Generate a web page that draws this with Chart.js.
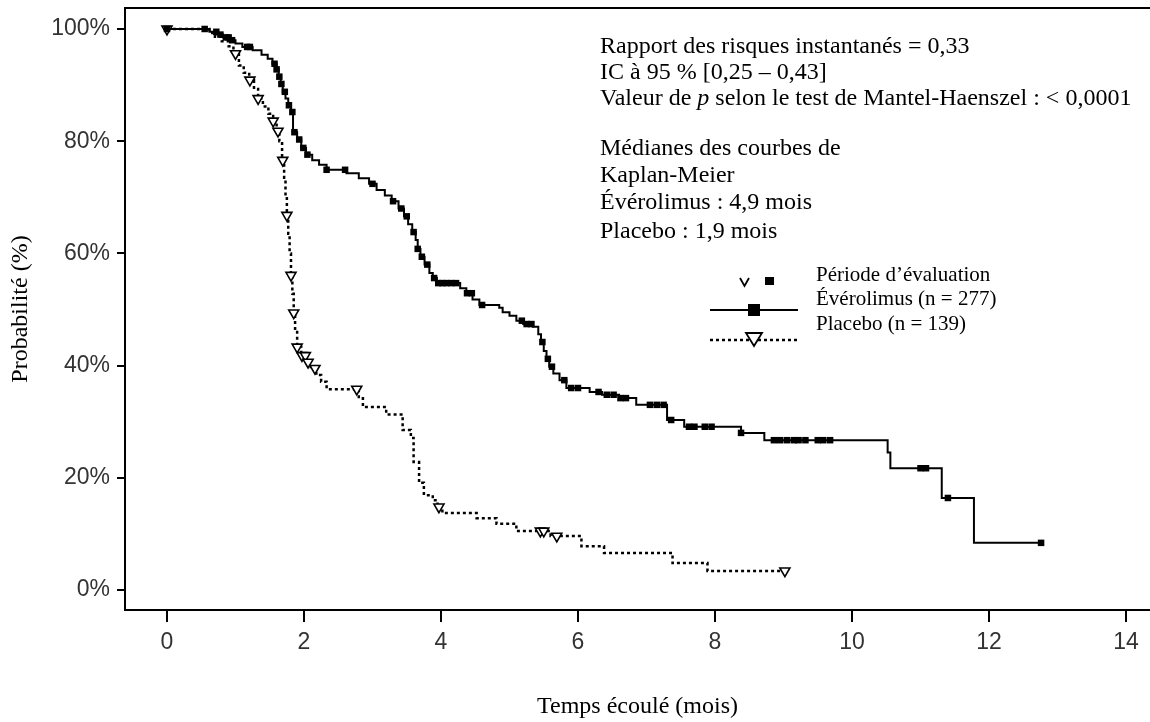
<!DOCTYPE html>
<html lang="fr">
<head>
<meta charset="utf-8">
<title>Survie sans progression – Évérolimus vs placebo</title>
<script src="https://cdn.jsdelivr.net/npm/chart.js@4.4.1/dist/chart.umd.min.js"></script>
<style>
  html, body { margin: 0; padding: 0; background: #fff; }
  #wrap { position: relative; width: 1150px; height: 722px; overflow: hidden; }
  #kmChart { position: absolute; left: 0; top: 0; }
  .note {
    position: absolute;
    font-family: "Liberation Serif", "Times New Roman", serif;
    font-size: 24px;
    line-height: 26px;
    color: #000;
    white-space: nowrap;
  }
  .key { font-size: 21px; line-height: 24px; }
</style>
</head>
<body>
<div id="wrap">
  <canvas id="kmChart" width="1150" height="722"></canvas>

  <div class="note" style="left:600px; top:32px;">Rapport des risques instantanés = 0,33</div>
  <div class="note" style="left:600px; top:58px;">IC à 95 % [0,25 – 0,43]</div>
  <div class="note" style="left:600px; top:84px;">Valeur de <i>p</i> selon le test de Mantel-Haenszel : &lt; 0,0001</div>
  <div class="note" style="left:600px; top:134px;">Médianes des courbes de</div>
  <div class="note" style="left:600px; top:161px;">Kaplan-Meier</div>
  <div class="note" style="left:600px; top:188px;">Évérolimus : 4,9 mois</div>
  <div class="note" style="left:600px; top:217px;">Placebo : 1,9 mois</div>

  <div class="note key" style="left:816px; top:262px;">Période d’évaluation</div>
  <div class="note key" style="left:816px; top:286px;">Évérolimus (n = 277)</div>
  <div class="note key" style="left:816px; top:311px;">Placebo (n = 139)</div>
</div>

<script>
// Kaplan-Meier steps: time in months, survival in % after each event
const everolimusTimes = [0, 0.62, 0.73, 0.82, 0.92, 1.0, 1.1, 1.25, 1.38, 1.47, 1.54, 1.6, 1.63, 1.66, 1.69,
  1.73, 1.77, 1.81, 1.84, 1.9, 1.96, 2.03, 2.12, 2.22, 2.33, 2.62, 2.8, 2.95, 3.06, 3.18, 3.28, 3.38, 3.46,
  3.52, 3.58, 3.63, 3.66, 3.7, 3.76, 3.83, 3.88, 3.94, 4.28, 4.37, 4.46, 4.56, 4.85, 4.9, 5.0, 5.1, 5.2,
  5.34, 5.42, 5.46, 5.5, 5.54, 5.58, 5.64, 5.73, 5.83, 6.17, 6.35, 6.6, 6.85, 7.3, 7.55, 8.38, 8.72,
  10.52, 10.56, 11.31, 11.78];
const everolimusSurv = [100, 99.5, 99.0, 98.5, 98.0, 97.4, 96.8, 96.2, 95.4, 94.7, 93.8, 92.8, 91.5, 90.2, 88.8,
  87.6, 86.4, 85.2, 81.6, 80.3, 78.8, 77.6, 76.6, 75.8, 74.9, 74.3, 73.4, 72.4, 71.3, 70.3, 69.3, 68.0, 66.6,
  65.2, 63.8, 62.4, 60.8, 59.4, 58.0, 56.5, 55.6, 54.7, 53.8, 52.9, 51.8, 50.8, 50.3, 49.5, 48.9, 48.0, 47.4,
  46.9, 45.6, 44.2, 42.6, 41.2, 39.8, 38.6, 37.4, 36.0, 35.3, 34.8, 34.2, 33.0, 30.3, 29.1, 28.0, 26.7,
  24.5, 21.7, 16.4, 8.4];
const everolimusCensored = [0, 0.55, 0.72, 0.78, 0.86, 0.9, 0.95, 1.17, 1.21, 1.57, 1.6, 1.64, 1.67, 1.72, 1.78,
  1.83, 1.86, 1.93, 1.99, 2.05, 2.33, 2.6, 3.0, 3.3, 3.42, 3.5, 3.6, 3.66, 3.72, 3.8, 3.9, 3.96, 4.02, 4.08,
  4.15, 4.22, 4.38, 4.45, 4.6, 5.18, 5.25, 5.32, 5.48, 5.56, 5.62, 5.8, 5.9, 6.0, 6.3, 6.42, 6.52, 6.62, 6.7,
  7.05, 7.15, 7.25, 7.36, 7.62, 7.7, 7.85, 7.95, 8.38, 8.86, 8.95, 9.05, 9.15, 9.22, 9.32, 9.5, 9.58, 9.68,
  11.0, 11.08, 11.4, 12.76];

const placeboTimes = [0, 0.62, 0.7, 0.8, 0.9, 0.97, 1.05, 1.12, 1.2, 1.27, 1.33, 1.4, 1.48, 1.55, 1.6, 1.64,
  1.68, 1.71, 1.73, 1.75, 1.77, 1.79, 1.81, 1.83, 1.85, 1.87, 1.9, 1.96, 2.04, 2.1, 2.18, 2.25, 2.33, 2.8,
  2.86, 3.2, 3.44, 3.56, 3.6, 3.68, 3.75, 3.88, 3.95, 4.02, 4.52, 4.81, 5.1, 5.6, 6.05, 6.38, 7.38, 7.89];
const placeboSurv = [100, 99.3, 98.6, 97.8, 96.9, 95.6, 93.5, 92.2, 90.9, 89.3, 87.6, 86.2, 84.9, 83.6, 81.8, 80.0,
  76.6, 73.5, 70.2, 66.8, 63.5, 60.0, 56.1, 52.8, 49.4, 46.3, 43.3, 41.8, 40.6, 39.5, 38.3, 37.1, 35.8, 34.4,
  32.6, 31.3, 28.5, 27.1, 22.8, 19.1, 16.9, 16.0, 14.8, 13.7, 12.8, 11.8, 10.5, 9.6, 7.8, 6.6, 4.8, 3.4];
const placeboCensored = [0, 1.0, 1.21, 1.33, 1.55, 1.62, 1.69, 1.75, 1.81, 1.85, 1.9, 1.97, 2.02, 2.06, 2.16,
  2.77, 3.97, 5.45, 5.5, 5.69, 9.02];

const xTicks = [0, 2, 4, 6, 8, 10, 12, 14];
const yTicks = [0, 20, 40, 60, 80, 100];

// survival level in force at time t
function survivalAt(times, surv, t) {
  let s = surv[0];
  for (let i = 0; i < times.length; i++) {
    if (times[i] <= t + 1e-9) s = surv[i];
  }
  return s;
}

function stepPoints(times, surv, censored) {
  const pts = times.map((t, i) => ({ x: t, y: surv[i] }));
  const last = Math.max(...censored);
  if (last > times[times.length - 1]) pts.push({ x: last, y: surv[surv.length - 1] });
  return pts;
}

function censorPoints(times, surv, censored) {
  return censored.map((t) => ({ x: t, y: survivalAt(times, surv, t) }));
}

// top edge of the frame plus the hand-drawn key glyphs
const frameAndKey = {
  id: "frameAndKey",
  afterDraw(chart) {
    const { ctx, chartArea } = chart;
    ctx.save();
    ctx.strokeStyle = "#000";
    ctx.fillStyle = "#000";
    ctx.lineWidth = 2;
    ctx.beginPath();
    ctx.moveTo(chartArea.left, chartArea.top);
    ctx.lineTo(chartArea.right, chartArea.top);
    ctx.stroke();

    // "v" and small square: censoring symbols
    ctx.lineWidth = 1.8;
    ctx.beginPath();
    ctx.moveTo(740, 278);
    ctx.lineTo(744.5, 286);
    ctx.lineTo(749, 278);
    ctx.stroke();
    ctx.fillRect(765, 277, 9, 8);

    // solid line with filled square
    ctx.lineWidth = 2;
    ctx.beginPath();
    ctx.moveTo(710, 310);
    ctx.lineTo(798, 310);
    ctx.stroke();
    ctx.fillRect(748, 304, 12, 12);

    // dotted line with open triangle
    ctx.lineWidth = 2.5;
    ctx.setLineDash([3, 3]);
    ctx.beginPath();
    ctx.moveTo(710, 340);
    ctx.lineTo(798, 340);
    ctx.stroke();
    ctx.setLineDash([]);
    ctx.fillStyle = "#fff";
    ctx.lineWidth = 1.8;
    ctx.beginPath();
    ctx.moveTo(746, 333);
    ctx.lineTo(762, 333);
    ctx.lineTo(754, 346);
    ctx.closePath();
    ctx.fill();
    ctx.stroke();
    ctx.restore();
  }
};

const tickFont = { family: "'Liberation Sans', Arial, sans-serif", size: 23 };
const titleFont = { family: "'Liberation Serif', 'Times New Roman', serif", size: 24 };

new Chart(document.getElementById("kmChart"), {
  type: "line",
  data: {
    datasets: [
      {
        label: "Évérolimus censurés",
        data: censorPoints(everolimusTimes, everolimusSurv, everolimusCensored),
        showLine: false,
        pointStyle: "rect",
        pointRadius: 4.6,
        pointBackgroundColor: "#000",
        pointBorderColor: "#000",
        pointBorderWidth: 0,
        order: 0
      },
      {
        label: "Placebo censurés",
        data: censorPoints(placeboTimes, placeboSurv, placeboCensored),
        showLine: false,
        pointStyle: "triangle",
        rotation: 180,
        pointRadius: 5.8,
        pointBackgroundColor: "#fff",
        pointBorderColor: "#000",
        pointBorderWidth: 1.6,
        order: 0
      },
      {
        label: "Évérolimus (n = 277)",
        data: stepPoints(everolimusTimes, everolimusSurv, everolimusCensored),
        stepped: true,
        borderColor: "#000",
        borderWidth: 2,
        pointRadius: 0,
        fill: false,
        order: 1
      },
      {
        label: "Placebo (n = 139)",
        data: stepPoints(placeboTimes, placeboSurv, placeboCensored),
        stepped: true,
        borderColor: "#000",
        borderWidth: 2.5,
        borderDash: [3, 3],
        pointRadius: 0,
        fill: false,
        order: 1
      }
    ]
  },
  options: {
    responsive: false,
    animation: false,
    devicePixelRatio: 1,
    layout: { autoPadding: false, padding: { top: 8, right: 0, left: 0, bottom: 0 } },
    plugins: {
      legend: { display: false },
      tooltip: { enabled: false }
    },
    scales: {
      x: {
        type: "linear",
        min: -0.613,
        max: 14.35,
        afterFit: (scale) => {
          scale.height = 112;
          scale.paddingLeft = 0;
          scale.paddingRight = 0;
        },
        afterBuildTicks: (scale) => { scale.ticks = xTicks.map((v) => ({ value: v })); },
        grid: { drawOnChartArea: false, drawTicks: true, tickLength: 12, color: "#000", lineWidth: 2 },
        border: { display: true, color: "#000", width: 2 },
        ticks: { font: tickFont, color: "#333", padding: 7 },
        title: {
          display: true,
          text: "Temps écoulé (mois)",
          font: titleFont,
          color: "#000",
          padding: { top: 0, bottom: 1 }
        }
      },
      y: {
        type: "linear",
        min: -3.57,
        max: 103.74,
        afterFit: (scale) => {
          scale.width = 125;
          scale.paddingTop = 0;
          scale.paddingBottom = 0;
        },
        afterBuildTicks: (scale) => { scale.ticks = yTicks.map((v) => ({ value: v })); },
        grid: { drawOnChartArea: false, drawTicks: true, tickLength: 8, color: "#000", lineWidth: 2 },
        border: { display: true, color: "#000", width: 2 },
        ticks: { font: tickFont, color: "#333", padding: 7, callback: (v) => v + "%" },
        title: {
          display: true,
          text: "Probabilité (%)",
          font: titleFont,
          color: "#000",
          padding: { top: 6, bottom: 0 }
        }
      }
    }
  },
  plugins: [frameAndKey]
});
</script>
</body>
</html>
